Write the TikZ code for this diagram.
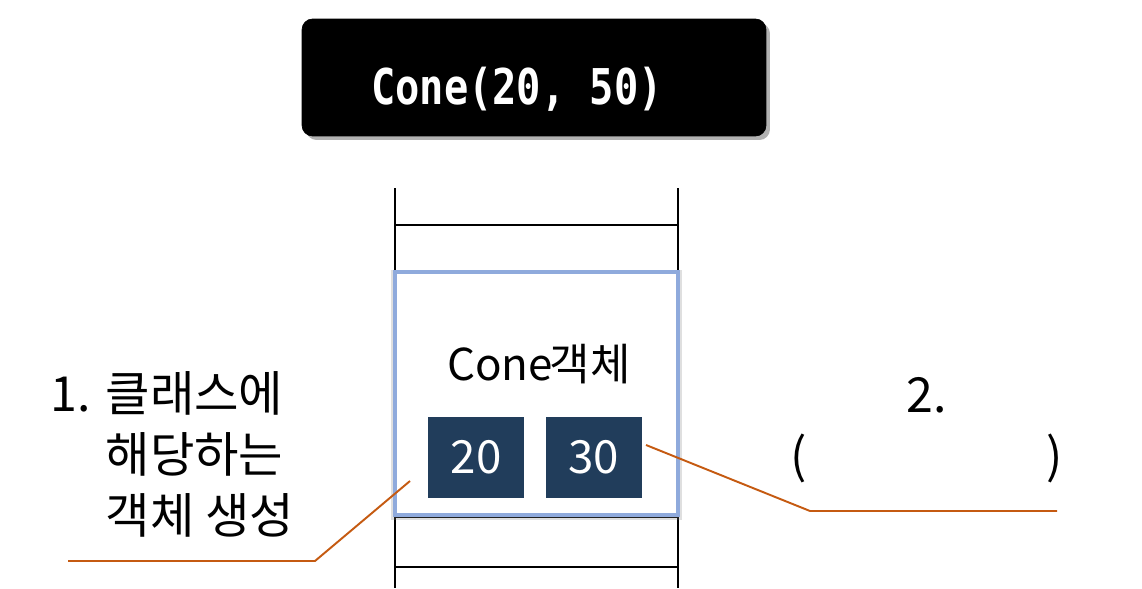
\documentclass[tikz,border=0pt]{standalone}
\usepackage{fontspec}
\setmainfont{Noto Sans CJK KR}
\setmonofont{DejaVu Sans Mono}
\usepackage{graphicx}
\usepackage{tikz}
\usetikzlibrary{positioning, shadows}

\definecolor{calloutorange}{HTML}{C55A11}
\definecolor{objblue}{HTML}{8FAADC}
\definecolor{valnavy}{HTML}{213D5B}

\begin{document}
\begin{tikzpicture}[
  x=0.02cm, y=-0.02cm,
  callbox/.style={rectangle, draw=black, fill=black, rounded corners=6pt, minimum width=9.28cm, minimum height=2.34cm, text=white, font=\ttfamily\bfseries\fontsize{23}{28}\selectfont, drop shadow={shadow xshift=0.08cm, shadow yshift=-0.08cm, fill=gray!60, opacity=1}},
  objbox/.style={rectangle, draw=objblue, line width=2.4pt, fill=white, minimum width=5.66cm, minimum height=4.86cm, drop shadow={shadow xshift=0pt, shadow yshift=-1pt, shadow scale=1.03, fill=gray, opacity=0.25}},
  valbox/.style={rectangle, fill=valnavy, text=white, minimum width=1.92cm, minimum height=1.62cm, inner sep=0pt, font=\fontsize{26}{30}\selectfont},
  stackline/.style={line width=1pt, black},
  callout/.style={line width=1.1pt, calloutorange},
  note/.style={font=\fontsize{27.5}{34.5}\selectfont, inner sep=0pt},
  node distance=0.42cm
]
\useasboundingbox (0,0) rectangle (1142,588);

% Constructor call
\node[callbox] (call) at (534,77.5) {\raisebox{-0.55cm}[0pt][0pt]{\scalebox{1}[1.22]{Cone(20, 50)}}\hspace*{0.68cm}};

% Stack frame lines
\coordinate (stackTL) at (395,188);
\coordinate (stackTR) at (678,188);
\coordinate (stackBL) at (395,588);
\coordinate (stackBR) at (678,588);
\draw[stackline] (stackTL) -- (stackBL);
\draw[stackline] (stackTR) -- (stackBR);
\draw[stackline] (stackTL |- 0,225) -- (stackTR |- 0,225);
\draw[stackline] (stackTL |- 0,517) -- (stackTR |- 0,517);
\draw[stackline] (stackTL |- 0,567) -- (stackTR |- 0,567);

% Object
\node[objbox] (obj) at (536.5,393.5) {};
\node[font=\fontsize{25}{30}\selectfont, inner sep=0pt] (objname) at (539,364) {Cone\hspace{-0.06cm}객체};
\node[valbox] (val1) at (476,457.5) {20};
\node[valbox, right=of val1] (val2) {30};

% Note 1
\node[note, anchor=north west] (note1) at (50,369) {%
  \begin{tabular}{@{}l@{\hspace{0.3cm}}l@{}}1. & 클래스에\\ & 해당하는\\ & 객체 생성\end{tabular}};
\coordinate (line1a) at (68,561);
\coordinate (line1b) at (315,561);
\coordinate (line1c) at (410,481);
\draw[callout] (line1a) -- (line1b) -- (line1c);

% Note 2
\node[note, align=center] (note2) at (927,430) {2.\\(\hspace*{4.8cm})};
\coordinate (line2a) at (1057,511);
\coordinate (line2b) at (810,511);
\draw[callout] (val2.east) ++(0.08cm,0.25cm) coordinate (line2c) -- (line2b) -- (line2a);
\end{tikzpicture}
\end{document}
